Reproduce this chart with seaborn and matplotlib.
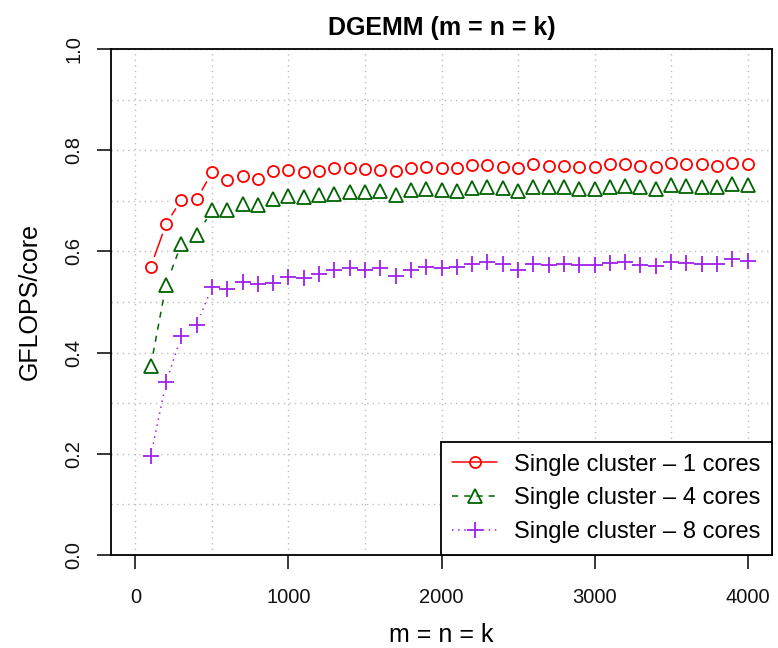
import numpy as np
import pandas as pd
import seaborn as sns
import matplotlib.pyplot as plt
from matplotlib.lines import Line2D

# matrix sizes (m = n = k)
sizes = list(range(100, 4001, 100))

gflops_1core = [0.570, 0.654, 0.702, 0.703, 0.756, 0.742, 0.749, 0.744, 0.758, 0.761,
                0.756, 0.758, 0.764, 0.764, 0.762, 0.761, 0.759, 0.765, 0.766, 0.764,
                0.764, 0.771, 0.771, 0.767, 0.764, 0.772, 0.769, 0.769, 0.767, 0.767,
                0.772, 0.772, 0.769, 0.767, 0.774, 0.772, 0.772, 0.769, 0.774, 0.772]
gflops_4core = [0.374, 0.534, 0.615, 0.632, 0.681, 0.681, 0.694, 0.692, 0.703, 0.709,
                0.707, 0.711, 0.713, 0.718, 0.718, 0.720, 0.711, 0.721, 0.723, 0.721,
                0.719, 0.725, 0.727, 0.725, 0.719, 0.727, 0.727, 0.727, 0.723, 0.723,
                0.728, 0.729, 0.727, 0.723, 0.731, 0.729, 0.727, 0.727, 0.733, 0.731]
gflops_8core = [0.196, 0.341, 0.433, 0.455, 0.529, 0.525, 0.540, 0.536, 0.537, 0.549,
                0.547, 0.555, 0.563, 0.567, 0.563, 0.567, 0.551, 0.563, 0.569, 0.567,
                0.569, 0.576, 0.580, 0.575, 0.563, 0.575, 0.573, 0.575, 0.573, 0.573,
                0.578, 0.580, 0.573, 0.571, 0.580, 0.578, 0.576, 0.576, 0.584, 0.582]

labels = ['Single cluster \u2013 1 cores', 'Single cluster \u2013 4 cores',
          'Single cluster \u2013 8 cores']
colors = ['#FF0000', '#006400', '#A020F0']
styles = ['-', (0, (4, 4)), (0, (1, 3))]
markers = ['o', '^', '+']
msizes = [8, 9.5, 12]

sns.set_style('white')
plt.rcParams['font.family'] = ['Liberation Sans', 'DejaVu Sans']
plt.rcParams['text.color'] = 'black'
plt.rcParams['axes.labelcolor'] = 'black'

fig = plt.figure(figsize=(7.78, 6.48), dpi=100)
ax = fig.add_axes([111 / 778, 1 - 555 / 648, 661 / 778, 506 / 648])

series = [gflops_1core, gflops_4core, gflops_8core]
for vals, c, ls, m, ms in zip(series, colors, styles, markers, msizes):
    df = pd.DataFrame({'size': sizes, 'gflops': vals})
    sns.lineplot(data=df, x='size', y='gflops', color=c, linestyle=ls, lw=1.1,
                 ax=ax, zorder=2)
    # gap around each point, like R's type = "b"
    sns.scatterplot(data=df, x='size', y='gflops', color='white', s=220,
                    marker='o', edgecolor='none', ax=ax, zorder=3, legend=False)
    sns.lineplot(data=df, x='size', y='gflops', linestyle='none', marker=m,
                 markersize=ms, mfc='none', mec=c, mew=1.3, ax=ax, zorder=4)

ax.set_xlim(-160, 4160)
ax.set_ylim(0, 1)
ax.set_xticks(np.arange(0, 4001, 1000))
ax.set_yticks(np.arange(0, 1.01, 0.2))
ax.set_yticklabels(['0.0', '0.2', '0.4', '0.6', '0.8', '1.0'])
ax.set_xticks(np.arange(0, 4001, 500), minor=True)
ax.set_yticks(np.arange(0, 1.01, 0.1), minor=True)
ax.grid(which='minor', color='#BEBEBE', linestyle=(0, (1, 3)), lw=1.0)
ax.grid(which='major', color='#BEBEBE', linestyle=(0, (1, 3)), lw=1.0)
ax.set_axisbelow(True)

ax.tick_params(axis='both', which='major', direction='out', length=10, width=1.1,
               labelsize=14.5, color='black', labelcolor='#111111',
               bottom=True, left=True)
ax.tick_params(axis='both', which='minor', length=0)
ax.tick_params(axis='x', pad=14)
ax.tick_params(axis='y', pad=10, labelrotation=90)
for t in ax.get_yticklabels():
    t.set_va('center')

for s in ax.spines.values():
    s.set_color('black')
    s.set_linewidth(1.3)

ax.set_xlabel('m = n = k', fontsize=18, labelpad=11)
ax.set_ylabel('GFLOPS/core', fontsize=18, labelpad=16)
ax.set_title('DGEMM (m = n = k)', fontsize=18, fontweight='bold', pad=10)

handles = [Line2D([], [], color=c, linestyle=ls, lw=1.1, marker=m, markersize=ms,
                  mfc='none', mec=c, mew=1.3)
           for c, ls, m, ms in zip(colors, styles, markers, msizes)]
leg = ax.legend(handles, labels, loc='lower right', fontsize=17, frameon=True,
                fancybox=False, borderaxespad=0, handlelength=1.9, handletextpad=0.7,
                labelspacing=0.5, borderpad=0.5)
leg.get_frame().set_edgecolor('black')
leg.get_frame().set_linewidth(1.3)
leg.get_frame().set_alpha(1)

fig.savefig('out.png', dpi=100)
